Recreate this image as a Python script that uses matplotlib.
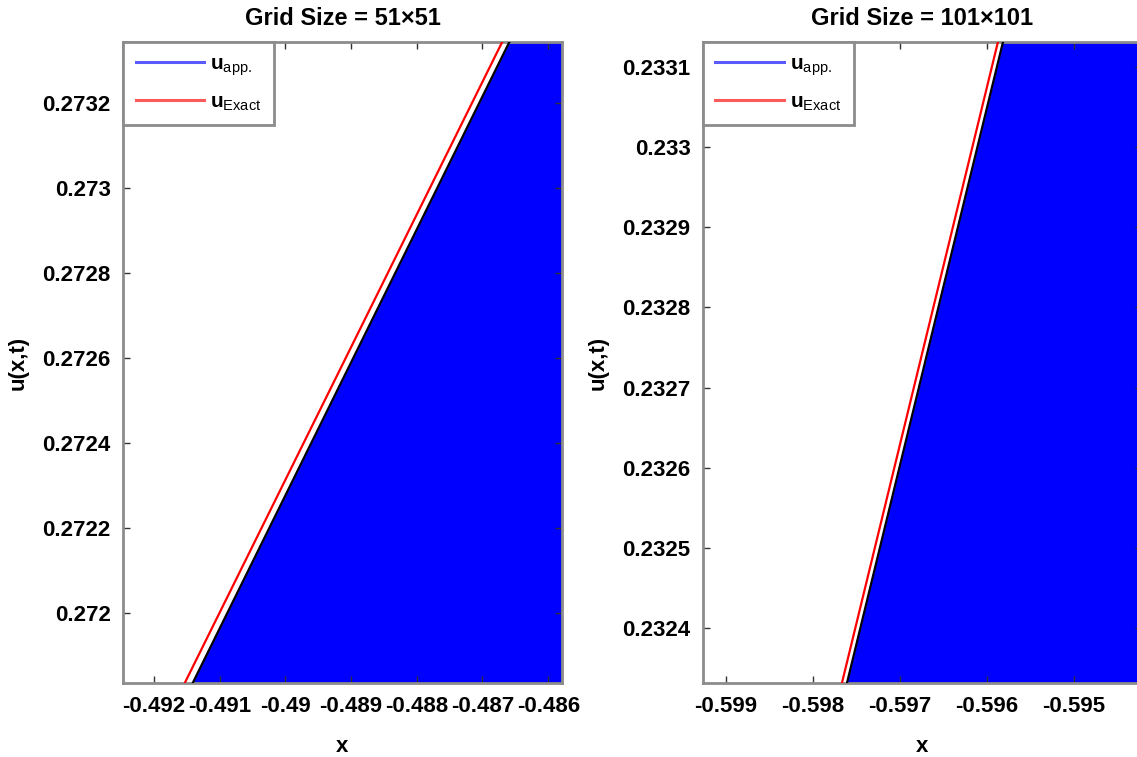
import matplotlib
matplotlib.use("Agg")
import matplotlib.pyplot as plt
from matplotlib.lines import Line2D

plt.rcParams['font.family'] = ['Liberation Sans', 'DejaVu Sans']
plt.rcParams['mathtext.fontset'] = 'custom'
plt.rcParams['mathtext.rm'] = 'Liberation Sans'
plt.rcParams['mathtext.it'] = 'Liberation Sans'
plt.rcParams['mathtext.bf'] = 'Liberation Sans:bold'

# grid 51x51 (zoomed view near the front)
u_left = [0.271835, 0.273344]
x_app_left = [-0.491409, -0.486591]
x_exact_left = [-0.491530, -0.486700]
xticks_left = [-0.492, -0.491, -0.490, -0.489, -0.488, -0.487, -0.486]
xlabels_left = ['-0.492', '-0.491', '-0.49', '-0.489', '-0.488', '-0.487', '-0.486']
yticks_left = [0.2720, 0.2722, 0.2724, 0.2726, 0.2728, 0.2730, 0.2732]
ylabels_left = ['0.272', '0.2722', '0.2724', '0.2726', '0.2728', '0.273', '0.2732']
xlim_left = (-0.49247, -0.48579)

# grid 101x101
u_right = [0.2323313, 0.2331313]
x_app_right = [-0.597609, -0.595816]
x_exact_right = [-0.597667, -0.595874]
xticks_right = [-0.599, -0.598, -0.597, -0.596, -0.595]
xlabels_right = ['-0.599', '-0.598', '-0.597', '-0.596', '-0.595']
yticks_right = [0.2324, 0.2325, 0.2326, 0.2327, 0.2328, 0.2329, 0.2330, 0.2331]
ylabels_right = ['0.2324', '0.2325', '0.2326', '0.2327', '0.2328', '0.2329', '0.233', '0.2331']
xlim_right = (-0.599264, -0.594218)

W, H = 1137, 757
fig = plt.figure(figsize=(W / 100, H / 100), dpi=100)
ax1 = fig.add_axes([123 / W, (H - 683) / H, 439 / W, 641 / H])
ax2 = fig.add_axes([703 / W, (H - 683) / H, 439 / W, 641 / H])

panels = [
    (ax1, u_left, x_app_left, x_exact_left, xticks_left, xlabels_left,
     yticks_left, ylabels_left, xlim_left, 'Grid Size = 51×51'),
    (ax2, u_right, x_app_right, x_exact_right, xticks_right, xlabels_right,
     yticks_right, ylabels_right, xlim_right, 'Grid Size = 101×101'),
]

for ax, u, xa, xe, xt, xl, yt, yl, xlim, title in panels:
    ax.set_xlim(xlim)
    ax.set_ylim(u[0], u[1])
    ax.fill_betweenx(u, xa, ax.get_xlim()[1], color=(0, 0, 1), lw=0, zorder=1)
    ax.plot(xa, u, color='black', lw=1.6, zorder=3)
    ax.plot(xe, u, color='red', lw=1.6, zorder=3)

    ax.set_xticks(xt)
    ax.set_xticklabels(xl, fontweight='bold')
    ax.set_yticks(yt)
    ax.set_yticklabels(yl, fontweight='bold')
    ax.tick_params(direction='in', length=5, width=1, color='#333333',
                   top=True, right=True, labelsize=16, pad=9)
    for sp in ax.spines.values():
        sp.set_color('#8c8c8c')
        sp.set_linewidth(2)
    # title placed by hand, MATLAB style
    ax.text(0.5, 1.037, title, transform=ax.transAxes, ha='center', va='center',
            fontsize=17, fontweight='bold')
    ax.set_xlabel('x', fontsize=16, fontweight='bold', labelpad=14)
    ax.set_ylabel('u(x,t)', fontsize=16, fontweight='bold', labelpad=10)

    handles = [Line2D([], [], color='#5a5aff', lw=2.2),
               Line2D([], [], color='#ff5a5a', lw=2.2)]
    leg = ax.legend(handles, [r'$\mathbf{u}_{\mathrm{app.}}$', r'$\mathbf{u}_{\mathrm{Exact}}$'],
                    loc='upper left', bbox_to_anchor=(0, 1), borderaxespad=0,
                    fontsize=15, frameon=True, fancybox=False, handlelength=3.3,
                    handletextpad=0.3, borderpad=0.6, labelspacing=0.7)
    leg.get_frame().set_edgecolor('#8c8c8c')
    leg.get_frame().set_linewidth(2)
    leg.get_frame().set_facecolor('white')
    leg.get_frame().set_alpha(1)
    leg.set_zorder(5)

fig.savefig('out.png', dpi=100)
